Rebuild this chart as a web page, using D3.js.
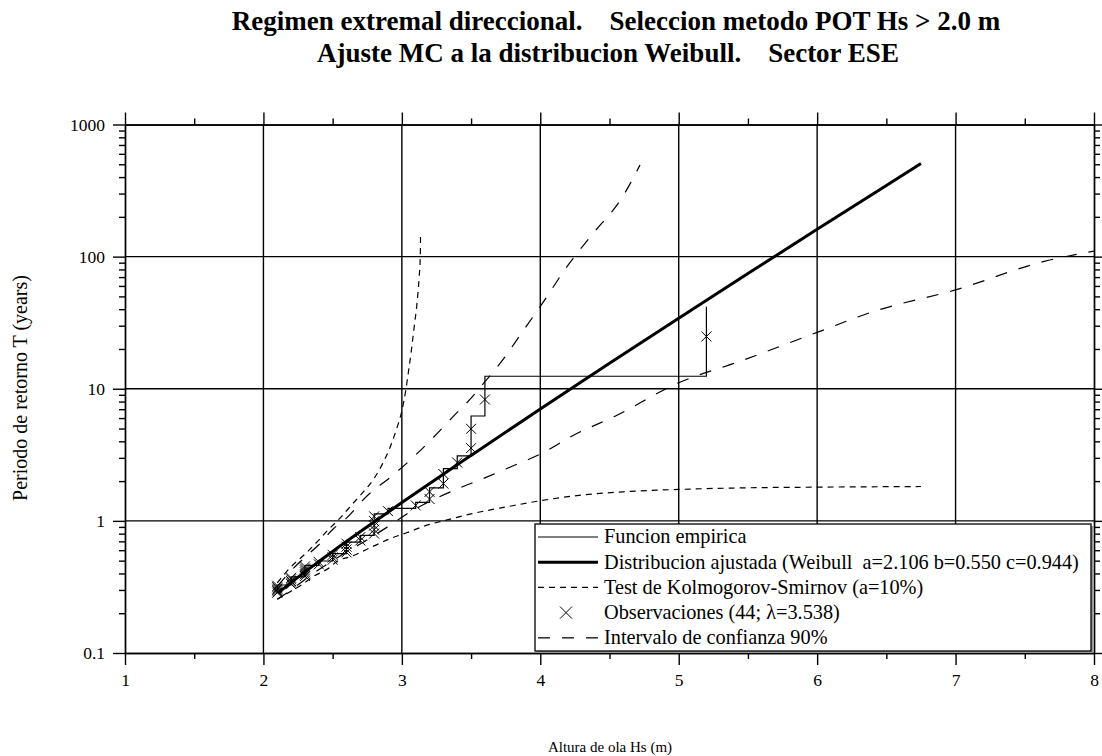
<!DOCTYPE html>
<html>
<head>
<meta charset="utf-8">
<script src="https://cdn.jsdelivr.net/npm/d3@7"></script>
<style>
  html, body { margin: 0; padding: 0; background: #fff; }
  svg { display: block; }
</style>
</head>
<body>
<svg id="chart" width="1102" height="756"></svg>
<script>
// ---------------- DATA ----------------
const titleLines = [
  "Regimen extremal direccional.    Seleccion metodo POT Hs > 2.0 m",
  "Ajuste MC a la distribucion Weibull.    Sector ESE"
];
const xTitle = "Altura de ola Hs (m)";
const yTitle = "Periodo de retorno T (years)";

const xTicks = [1, 2, 3, 4, 5, 6, 7, 8];
const xTickLabels = ["1", "2", "3", "4", "5", "6", "7", "8"];
const xMinorTicks = [1.5, 2.5, 3.5, 4.5, 5.5, 6.5, 7.5];
const yTicks = [0.1, 1, 10, 100, 1000];
const yTickLabels = ["0.1", "1", "10", "100", "1000"];

// Fitted Weibull distribution (Hs, T)
const fitHs = [2.106, 2.11, 2.13, 2.15, 2.2, 2.3, 2.4, 2.5, 2.75, 3.0, 3.5, 4.0, 4.5, 5.0, 5.5, 6.0, 6.5, 6.75];
const fitT  = [0.283, 0.285, 0.298, 0.310, 0.341, 0.411, 0.492, 0.587, 0.902, 1.375, 3.13, 7.03, 15.6, 34.2, 74.4, 161, 346, 506];

// Empirical function (step corners)
const stepHs = [2.1, 2.1, 2.2, 2.3, 2.4, 2.5, 2.6, 2.7, 2.8, 2.9, 3.1, 3.2, 3.3, 3.4, 3.5, 3.6, 5.2];
const stepT  = [0.283, 0.327, 0.377, 0.461, 0.497, 0.565, 0.691, 0.777, 1.131, 1.244, 1.382, 1.777, 2.487, 3.109, 6.218, 12.437, 41.8];

// Observations (44)
const obsHs = [5.2, 3.6, 3.5, 3.5, 3.4, 3.3, 3.3, 3.2, 3.2, 3.1, 2.9,
  2.8, 2.8, 2.8, 2.8, 2.8, 2.7, 2.7, 2.6, 2.6, 2.6, 2.6, 2.5, 2.5, 2.5, 2.4, 2.4,
  2.3, 2.3, 2.3, 2.3, 2.3, 2.3, 2.2, 2.2, 2.2, 2.2, 2.2, 2.1, 2.1, 2.1, 2.1, 2.1, 2.1];
const obsT = [24.87, 8.291, 4.975, 3.553, 2.764, 2.262, 1.914, 1.658, 1.463, 1.309, 1.184,
  1.081, 0.995, 0.921, 0.858, 0.802, 0.754, 0.711, 0.672, 0.638, 0.607, 0.578, 0.553, 0.529, 0.508, 0.488, 0.469,
  0.452, 0.436, 0.422, 0.408, 0.395, 0.383, 0.371, 0.361, 0.350, 0.341, 0.332, 0.323, 0.315, 0.307, 0.300, 0.293, 0.286];

// Kolmogorov-Smirnov test band
const ksUpHs = [2.1, 2.2, 2.3, 2.38, 2.46, 2.55, 2.64, 2.72, 2.8, 2.86, 2.91, 2.96, 3.0, 3.03, 3.05, 3.07, 3.09, 3.11, 3.125, 3.133, 3.135];
const ksUpT  = [0.34, 0.45, 0.56, 0.68, 0.84, 1.04, 1.33, 1.65, 2.1, 2.7, 3.5, 4.9, 6.8, 10, 14, 20, 30, 45, 70, 100, 150];
const ksLoHs = [2.1, 2.19, 2.28, 2.36, 2.46, 2.54, 2.64, 2.72, 2.83, 2.91, 3.03, 3.2, 3.3, 3.5, 3.78, 4.0, 4.28, 4.6, 5.0, 5.5, 6.0, 6.75];
const ksLoT  = [0.255, 0.29, 0.33, 0.38, 0.43, 0.50, 0.54, 0.59, 0.67, 0.73, 0.81, 0.94, 1.0, 1.13, 1.29, 1.42, 1.56, 1.66, 1.73, 1.78, 1.80, 1.82];

// 90% confidence interval
const ciUpHs = [2.1, 2.2, 2.3, 2.4, 2.5, 2.6, 2.75, 2.92, 3.07, 3.21, 3.36, 3.5, 3.6, 3.73, 3.86, 4.0, 4.21, 4.37, 4.6, 4.72];
const ciUpT  = [0.32, 0.42, 0.53, 0.66, 0.86, 1.05, 1.55, 2.15, 2.95, 4.1, 6.0, 8.5, 11.3, 16.6, 26, 42, 89, 145, 290, 493];
const ciLoHs = [2.1, 2.2, 2.33, 2.46, 2.6, 2.75, 2.91, 3.05, 3.23, 3.42, 3.63, 3.8, 4.0, 4.25, 4.54, 5.0, 5.44, 6.0, 6.41, 7.0, 7.64, 8.0];
const ciLoT  = [0.255, 0.30, 0.38, 0.47, 0.58, 0.72, 0.92, 1.15, 1.45, 1.78, 2.18, 2.6, 3.2, 4.5, 6.2, 11.1, 16.1, 26.7, 38.5, 56, 92, 110];

const legendLabels = [
  "Funcion empirica",
  "Distribucion ajustada (Weibull  a=2.106 b=0.550 c=0.944)",
  "Test de Kolmogorov-Smirnov (a=10%)",
  "Observaciones (44; \u03bb=3.538)",
  "Intervalo de confianza 90%"
];

// ---------------- CHART ----------------
const FONT = "'Liberation Serif', 'Times New Roman', serif";
const svg = d3.select("#chart");
const L = 125, R = 1094, T = 124.5, B = 653;
const x = d3.scaleLinear().domain([1, 8]).range([L, R]);
const y = d3.scaleLog().domain([0.1, 1000]).range([B, T]);

const yMinorTicks = [];
[0.1, 1, 10, 100].forEach(d => { for (let k = 2; k <= 9; k++) yMinorTicks.push(+(d * k).toPrecision(3)); });

const ink = "#000";
const gridW = 1.4;

svg.append("defs").append("clipPath").attr("id", "plotclip")
  .append("rect").attr("x", L).attr("y", T).attr("width", R - L).attr("height", B - T);

// grid
const grid = svg.append("g");
grid.selectAll("line.vx").data(xTicks.slice(1, -1)).join("line")
  .attr("x1", d => x(d)).attr("x2", d => x(d)).attr("y1", T).attr("y2", B)
  .attr("stroke", ink).attr("stroke-width", gridW);
grid.selectAll("line.hy").data(yTicks.slice(1, -1)).join("line")
  .attr("x1", L).attr("x2", R).attr("y1", d => y(d)).attr("y2", d => y(d))
  .attr("stroke", ink).attr("stroke-width", gridW);

function styleAxis(g) {
  g.selectAll("path.domain").attr("stroke", ink).attr("stroke-width", gridW);
  g.selectAll(".tick line").attr("stroke", ink).attr("stroke-width", gridW);
}
const fs = 17.5;
const gB = svg.append("g").attr("transform", `translate(0,${B})`)
  .call(d3.axisBottom(x).tickValues(xTicks).tickSize(12).tickSizeOuter(0).tickPadding(9)
    .tickFormat((d, i) => xTickLabels[i]));
gB.call(styleAxis);
gB.selectAll("text").style("font-size", fs + "px").style("font-family", FONT).attr("fill", ink);
svg.append("g").attr("transform", `translate(0,${B})`)
  .call(d3.axisBottom(x).tickValues(xMinorTicks).tickSize(6).tickSizeOuter(0).tickFormat(""))
  .call(styleAxis);
svg.append("g").attr("transform", `translate(0,${T})`)
  .call(d3.axisTop(x).tickValues(xTicks).tickSize(12).tickSizeOuter(0).tickFormat(""))
  .call(styleAxis);
svg.append("g").attr("transform", `translate(0,${T})`)
  .call(d3.axisTop(x).tickValues(xMinorTicks).tickSize(6).tickSizeOuter(0).tickFormat(""))
  .call(styleAxis);

const gL = svg.append("g").attr("transform", `translate(${L},0)`)
  .call(d3.axisLeft(y).tickValues(yTicks).tickSize(12).tickSizeOuter(0).tickPadding(8)
    .tickFormat((d, i) => yTickLabels[i]));
gL.call(styleAxis);
gL.selectAll("text").style("font-size", fs + "px").style("font-family", FONT).attr("fill", ink);
svg.append("g").attr("transform", `translate(${L},0)`)
  .call(d3.axisLeft(y).tickValues(yMinorTicks).tickSize(6).tickSizeOuter(0).tickFormat(""))
  .call(styleAxis);
svg.append("g").attr("transform", `translate(${R},0)`)
  .call(d3.axisRight(y).tickValues(yTicks).tickSize(10).tickSizeOuter(0).tickFormat(""))
  .call(styleAxis);
svg.append("g").attr("transform", `translate(${R},0)`)
  .call(d3.axisRight(y).tickValues(yMinorTicks).tickSize(6).tickSizeOuter(0).tickFormat(""))
  .call(styleAxis);

// curves
const plot = svg.append("g").attr("clip-path", "url(#plotclip)");
const line = d3.line().x(d => x(d[0])).y(d => y(d[1])).curve(d3.curveMonotoneX);
const zip = (a, b) => a.map((v, i) => [v, b[i]]);

function curve(hs, ts, dash, w) {
  plot.append("path").datum(zip(hs, ts))
    .attr("d", line).attr("fill", "none").attr("stroke", ink)
    .attr("stroke-width", w).attr("stroke-dasharray", dash);
}
curve(ksUpHs, ksUpT, "6,5", 1.2);
curve(ksLoHs, ksLoT, "6,5", 1.2);
curve(ciUpHs, ciUpT, "12,12", 1.2);
curve(ciLoHs, ciLoT, "12,12", 1.2);

const stepLine = d3.line().x(d => x(d[0])).y(d => y(d[1])).curve(d3.curveStepAfter);
plot.append("path").datum(zip(stepHs, stepT))
  .attr("d", stepLine).attr("fill", "none").attr("stroke", ink).attr("stroke-width", 1.2);

plot.append("path").datum(zip(fitHs, fitT))
  .attr("d", line).attr("fill", "none").attr("stroke", ink).attr("stroke-width", 3)
  .attr("stroke-linejoin", "round");

const s = 5;
plot.append("g").selectAll("path").data(zip(obsHs, obsT)).join("path")
  .attr("d", d => {
    const cx = x(d[0]), cy = y(d[1]);
    return `M${cx - s},${cy - s}L${cx + s},${cy + s}M${cx - s},${cy + s}L${cx + s},${cy - s}`;
  })
  .attr("stroke", ink).attr("stroke-width", 1).attr("fill", "none");

// legend
const lg = svg.append("g");
const lx = 535, ly = 524, lw = 556, lh = 127;
lg.append("rect").attr("x", lx + 2).attr("y", ly + 2).attr("width", lw).attr("height", lh)
  .attr("fill", "#999");
lg.append("rect").attr("x", lx).attr("y", ly).attr("width", lw).attr("height", lh)
  .attr("fill", "#fff").attr("stroke", ink).attr("stroke-width", 1.3);
const rowY = i => ly + 13 + i * 25.2;
const sampleStyles = [
  { w: 1.2, dash: null },
  { w: 3, dash: null },
  { w: 1.2, dash: "6,5" },
  null,
  { w: 1.2, dash: "12,12" }
];
legendLabels.forEach((lab, i) => {
  const cy = rowY(i);
  const st = sampleStyles[i];
  if (st) {
    lg.append("line").attr("x1", 538).attr("x2", 598).attr("y1", cy).attr("y2", cy)
      .attr("stroke", ink).attr("stroke-width", st.w).attr("stroke-dasharray", st.dash);
  } else {
    const cx = 566, ss = 6;
    lg.append("path").attr("d", `M${cx - ss},${cy - ss}L${cx + ss},${cy + ss}M${cx - ss},${cy + ss}L${cx + ss},${cy - ss}`)
      .attr("stroke", ink).attr("stroke-width", 1).attr("fill", "none");
  }
  lg.append("text").attr("x", 604).attr("y", cy).attr("dy", "0.32em")
    .style("font-family", FONT).style("font-size", "20.3px").style("white-space", "pre")
    .attr("xml:space", "preserve").text(lab);
});

// titles
const titleX = [616, 608];
svg.append("g").selectAll("text").data(titleLines).join("text")
  .attr("x", (d, i) => titleX[i]).attr("y", (d, i) => 30 + i * 32)
  .attr("text-anchor", "middle")
  .style("font-family", FONT).style("font-size", "27px").style("font-weight", "bold")
  .attr("xml:space", "preserve").style("white-space", "pre")
  .text(d => d);

svg.append("text").attr("x", 610).attr("y", 752).attr("text-anchor", "middle")
  .style("font-family", FONT).style("font-size", "15px").text(xTitle);
svg.append("text").attr("transform", "translate(27,388) rotate(-90)").attr("text-anchor", "middle")
  .style("font-family", FONT).style("font-size", "20px").text(yTitle);
</script>
</body>
</html>
